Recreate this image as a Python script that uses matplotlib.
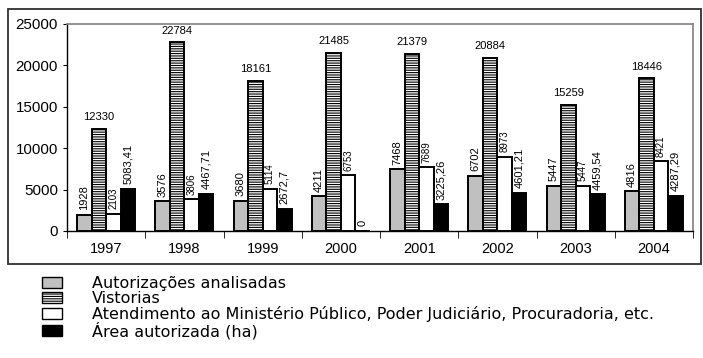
import matplotlib
matplotlib.use("Agg")
import matplotlib.pyplot as plt
import numpy as np
from matplotlib.patches import Rectangle, Patch

plt.rcParams['font.family'] = ['Liberation Sans', 'DejaVu Sans']
plt.rcParams['hatch.linewidth'] = 0.8

years = ['1997', '1998', '1999', '2000', '2001', '2002', '2003', '2004']
autorizacoes = [1928, 3576, 3680, 4211, 7468, 6702, 5447, 4816]
vistorias = [12330, 22784, 18161, 21485, 21379, 20884, 15259, 18446]
atendimento = [2103, 3806, 5114, 6753, 7689, 8973, 5447, 8421]
area = [5083.41, 4467.71, 2672.7, 0, 3225.26, 4601.21, 4459.54, 4287.29]

series_names = ['Autorizações analisadas', 'Vistorias',
                'Atendimento ao Ministério Público, Poder Judiciário, Procuradoria, etc.',
                'Área autorizada (ha)']


def fmt(v):
    if float(v).is_integer():
        return f"{int(v)}"
    return f"{v:g}".replace('.', ',')


fig = plt.figure(figsize=(7.03, 3.58), dpi=100)
ax = fig.add_axes([67 / 703, 1 - 231 / 358, (693 - 67) / 703, (231 - 24) / 358])

x = np.arange(len(years))
w = 0.185
offsets = [-1.5 * w, -0.5 * w, 0.5 * w, 1.5 * w]
styles = [
    dict(color='#c0c0c0', edgecolor='black'),
    dict(color='white', edgecolor='black', hatch='-------'),
    dict(color='white', edgecolor='black'),
    dict(color='black', edgecolor='black'),
]
data = [autorizacoes, vistorias, atendimento, area]

for vals, off, st in zip(data, offsets, styles):
    ax.bar(x + off, vals, w, linewidth=1.4, zorder=2, **st)

# value labels
for i in range(len(years)):
    ax.text(x[i] + offsets[1], vistorias[i] + 800, fmt(vistorias[i]),
            ha='center', va='bottom', fontsize=8)
    for vals, off, fs in [(autorizacoes, offsets[0], 8),
                          (atendimento, offsets[2], 7),
                          (area, offsets[3], 8)]:
        ax.text(x[i] + off, vals[i] + 550, fmt(vals[i]), rotation=90,
                ha='center', va='bottom', fontsize=fs)

ax.set_xlim(-0.5, len(years) - 0.5)
ax.set_ylim(0, 25000)
ax.set_yticks(np.arange(0, 25001, 5000))
ax.tick_params(axis='y', labelsize=10.9, length=3, direction='out')
ax.set_xticks(x)
ax.set_xticklabels(years, fontsize=10.5)
ax.tick_params(axis='x', length=0, pad=8)
ax.set_xticks(np.arange(-0.5, len(years)), minor=True)
ax.tick_params(axis='x', which='minor', length=5, direction='out')

for side in ['top', 'right']:
    ax.spines[side].set_color('#808080')
    ax.spines[side].set_linewidth(1.2)
ax.spines['left'].set_linewidth(1.0)
ax.spines['bottom'].set_linewidth(1.0)

# outer chart frame
fig.add_artist(Rectangle((8 / 703, 1 - 264 / 358), (701 - 8) / 703, (264 - 9) / 358,
                         transform=fig.transFigure, fill=False,
                         edgecolor='#303030', linewidth=1.3))

handles = [Patch(facecolor=st['color'], edgecolor='black', hatch=st.get('hatch'),
                 linewidth=1.0) for st in styles]
fig.legend(handles, series_names, loc='upper left',
           bbox_to_anchor=(42 / 703, 1 - 276 / 358), frameon=False,
           prop={'family': 'DejaVu Sans', 'size': 11.5},
           labelspacing=0.0, handlelength=1.25, handleheight=0.69,
           handletextpad=1.88, borderpad=0, borderaxespad=0)

fig.savefig('out.png', dpi=100)
